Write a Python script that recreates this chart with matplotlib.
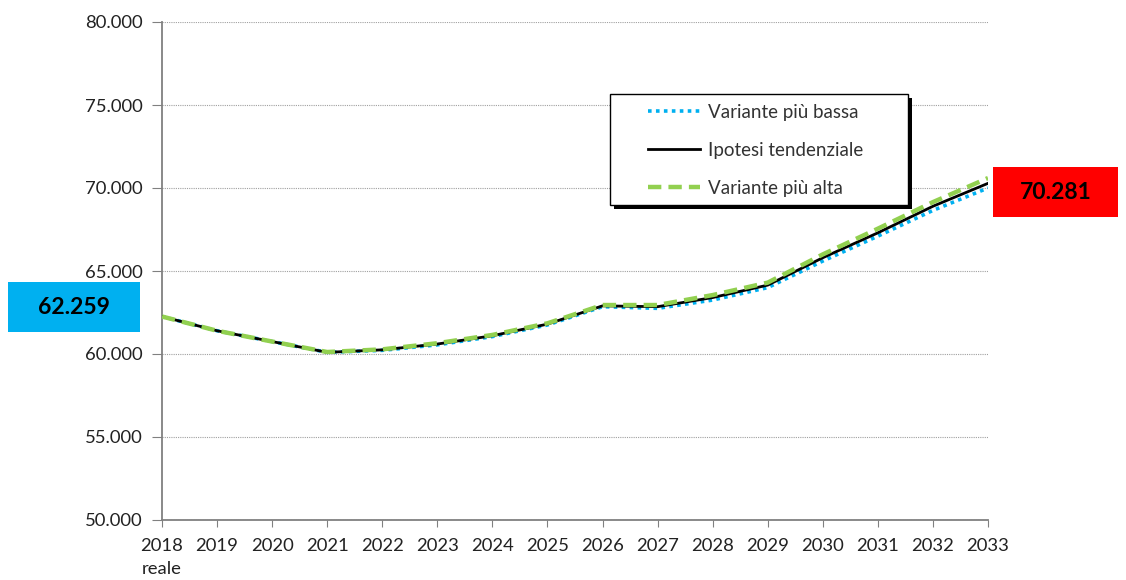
import matplotlib

matplotlib.use("Agg")
import matplotlib.pyplot as plt
from matplotlib.patches import Rectangle
from matplotlib.ticker import FuncFormatter

plt.rcParams["font.family"] = ["Lato", "DejaVu Sans"]

years = list(range(2018, 2034))
year_labels = ["2018\nreale"] + [str(y) for y in years[1:]]

# migliaia
central = [62.259, 61.40, 60.75, 60.10, 60.25, 60.60, 61.10, 61.80, 62.90, 62.85,
           63.40, 64.15, 65.80, 67.30, 68.90, 70.281]
low = [62.259, 61.40, 60.75, 60.10, 60.22, 60.55, 61.05, 61.75, 62.85, 62.75,
       63.25, 64.00, 65.60, 67.10, 68.65, 70.00]
high = [62.259, 61.40, 60.75, 60.12, 60.28, 60.65, 61.15, 61.85, 62.95, 62.95,
        63.55, 64.30, 66.00, 67.55, 69.15, 70.60]

start_label = "62.259"
end_label = "70.281"

W, H = 1126, 580
fig = plt.figure(figsize=(W / 100, H / 100), dpi=100)
ax = fig.add_axes([162 / W, 1 - 520 / H, 826 / W, 498 / H])


def px_rect(x0, y0, x1, y1, **kw):
    # rettangolo in pixel della figura (origine in alto a sinistra)
    r = Rectangle((x0 / W, 1 - y1 / H), (x1 - x0) / W, (y1 - y0) / H,
                  transform=fig.transFigure, **kw)
    fig.add_artist(r)
    return r


ax.plot(years, low, color="#00B0F0", linestyle=(0, (1, 1.2)), linewidth=2.6,
        label="Variante più bassa", zorder=3)
ax.plot(years, central, color="black", linewidth=2.0,
        label="Ipotesi tendenziale", zorder=4)
ax.plot(years, high, color="#92D050", linestyle=(0, (3, 1.6)), linewidth=3.2,
        label="Variante più alta", zorder=5)

ax.set_xlim(2018, 2033)
ax.set_ylim(50, 80)
ax.set_xticks(years)
ax.set_xticklabels(year_labels)
ax.get_xticklabels()[0].set_linespacing(1.5)
ax.set_yticks(range(50, 81, 5))
ax.yaxis.set_major_formatter(FuncFormatter(lambda v, p: f"{int(v)}.000"))
ax.tick_params(axis="both", direction="out", color="#808080",
               labelsize=13.3, labelcolor="#222222")
ax.tick_params(axis="y", length=7, pad=7)
ax.tick_params(axis="x", length=5, pad=8)

ax.grid(axis="y", color="#a0a0a0", linestyle=(0, (1, 1)), linewidth=0.8)
ax.set_axisbelow(True)
for s in ["top", "right"]:
    ax.spines[s].set_visible(False)
for s in ["left", "bottom"]:
    ax.spines[s].set_color("#808080")
    ax.spines[s].set_linewidth(1.3)

# cornice della legenda con ombra nera
px_rect(614, 98, 912, 209, facecolor="black", edgecolor="none", zorder=6)
px_rect(610, 94, 908, 205, facecolor="white", edgecolor="black", linewidth=1.0, zorder=7)

leg = fig.legend(*ax.get_legend_handles_labels(), loc="upper left",
                 bbox_to_anchor=(648 / W, 1 - 104 / H), frameon=False,
                 fontsize=13.5, handlelength=2.75, handletextpad=0.45,
                 labelspacing=1.12, borderpad=0, borderaxespad=0)
leg.set_zorder(8)
for t in leg.get_texts():
    t.set_color("#333333")

px_rect(8, 282, 140, 332, facecolor="#00B0F0", edgecolor="none")
fig.text(74 / W, 1 - 308 / H, start_label, ha="center", va="center",
         fontsize=16.5, fontweight="bold")
px_rect(993, 167, 1118, 217, facecolor="#FF0000", edgecolor="none")
fig.text(1056 / W, 1 - 193 / H, end_label, ha="center", va="center",
         fontsize=16.5, fontweight="bold")

fig.savefig("out.png", dpi=100)
